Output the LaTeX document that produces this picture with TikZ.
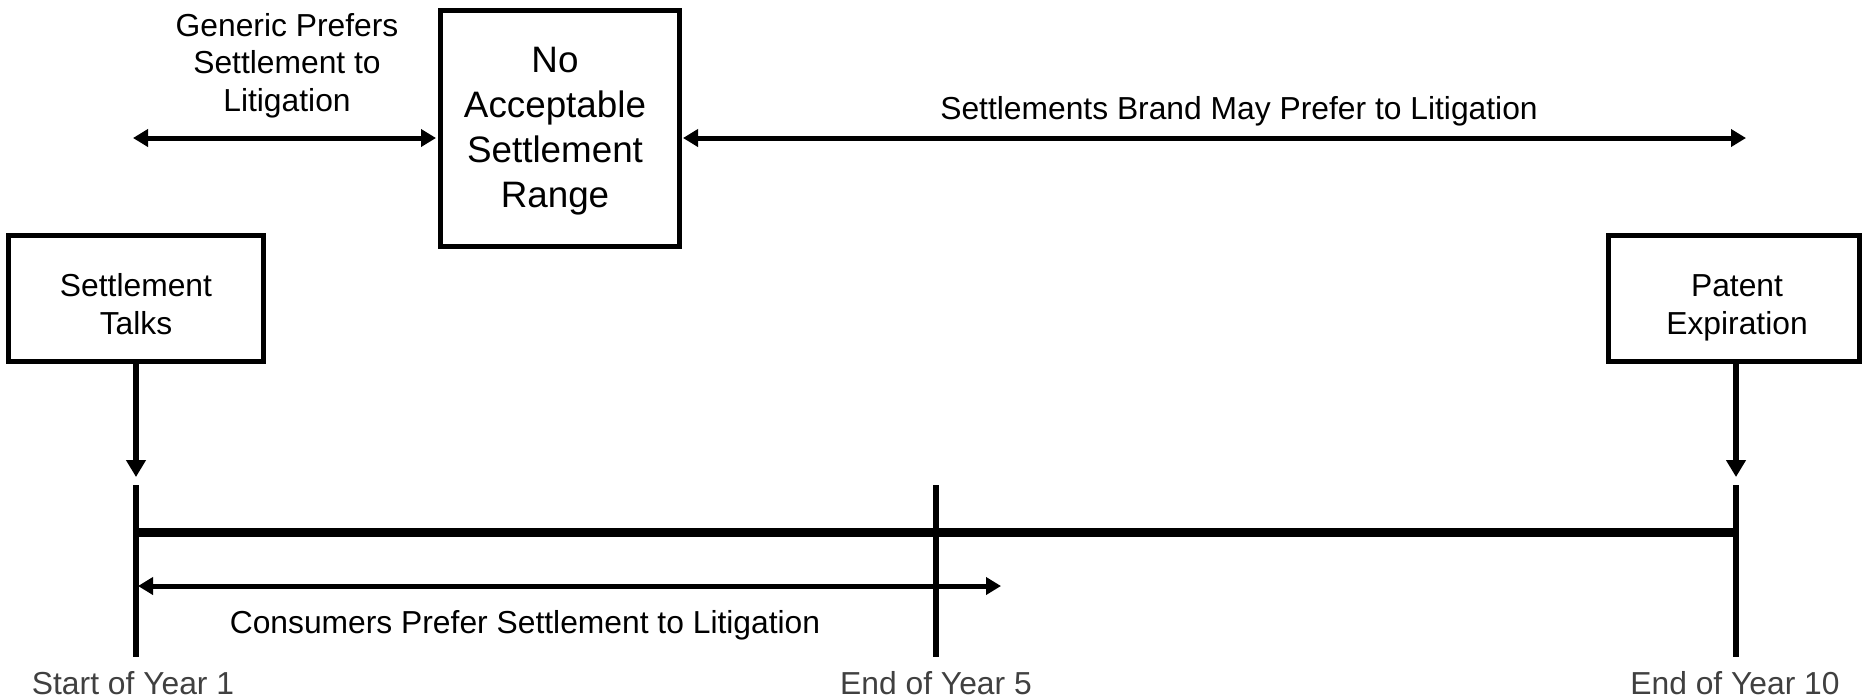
\documentclass[tikz,border=0pt]{standalone}
\usepackage{fontspec}
\setmainfont{Liberation Sans}
\usetikzlibrary{arrows.meta}
\definecolor{labelgray}{HTML}{404040}
\begin{document}
\begin{tikzpicture}[x=0.5pt,y=-0.5pt,
  txt/.style={font=\fontsize{15.9pt}{18.6pt}\selectfont, align=center, inner sep=0pt, anchor=base},
  bigtxt/.style={font=\fontsize{18.4pt}{22.5pt}\selectfont, align=center, inner sep=0pt, anchor=base},
  boxnode/.style={draw, line width=2.5pt, inner sep=0pt},
  conn/.style={line width=2.75pt, -{Triangle[length=8.5pt,width=9.5pt]}},
  dconn/.style={line width=2.5pt, {Triangle[length=7.5pt,width=8.5pt]}-{Triangle[length=7.5pt,width=8.5pt]}},
  tick/.style={line width=3pt},
  axis/.style={line width=4.5pt},
  yearlabel/.style={txt, text=labelgray}
]
\useasboundingbox (0,0) rectangle (1864,698);

% boxes
\node[boxnode, minimum width=119.5pt, minimum height=118pt] (nasr) at (560,128.5) {};
\node[boxnode, minimum width=127.5pt, minimum height=63pt] (talks) at (136,298.5) {};
\node[boxnode, minimum width=125.5pt, minimum height=63pt] (patent) at (1734,298.5) {};

% box texts (anchor=base is the baseline of the last line)
\node[bigtxt] (nasrtext) at (555,207) {No\\Acceptable\\Settlement\\Range};
\node[txt] (talkstext) at (136,334) {Settlement\\Talks};
\node[txt] (patenttext) at (1737,334) {Patent\\Expiration};

% upper labels
\node[txt] (generic) at (287,111) {Generic Prefers\\Settlement to\\Litigation};
\node[txt] (brand) at (1239,119) {Settlements Brand May Prefer to Litigation};

% upper arrows
\coordinate (gl) at (133,138);
\coordinate (bl) at (683,138);
\coordinate (br) at (1746,138);
\draw[dconn] (gl) -- ([xshift=-1pt]nasr.west |- gl);
\draw[dconn] (bl) -- (br);

% timeline
\coordinate (t1top) at (136,485);
\coordinate (t1bot) at (136,657);
\coordinate (t5top) at (936,485);
\coordinate (t5bot) at (936,657);
\coordinate (t10top) at (1736,485);
\coordinate (t10bot) at (1736,657);
\draw[axis] (t1top |- 0,532) -- (t10top |- 0,532);
\draw[tick] (t1top) -- (t1bot);
\draw[tick] (t5top) -- (t5bot);
\draw[tick] (t10top) -- (t10bot);

% down arrows
\coordinate (talksTip) at (136,477);
\coordinate (patentTip) at (1736,477);
\draw[conn] (talks.south -| talksTip) -- (talksTip);
\draw[conn] (patent.south -| patentTip) -- (patentTip);

% consumers arrow
\coordinate (cl) at (138,586);
\coordinate (cr) at (1001,586);
\draw[dconn] (cl) -- (cr);
\node[txt] (consumers) at (525,633) {Consumers Prefer Settlement to Litigation};

% year labels
\node[yearlabel] (y1) at (133,694) {Start of Year 1};
\node[yearlabel] (y5) at (936,694) {End of Year 5};
\node[yearlabel] (y10) at (1735,694) {End of Year 10};
\end{tikzpicture}
\end{document}
